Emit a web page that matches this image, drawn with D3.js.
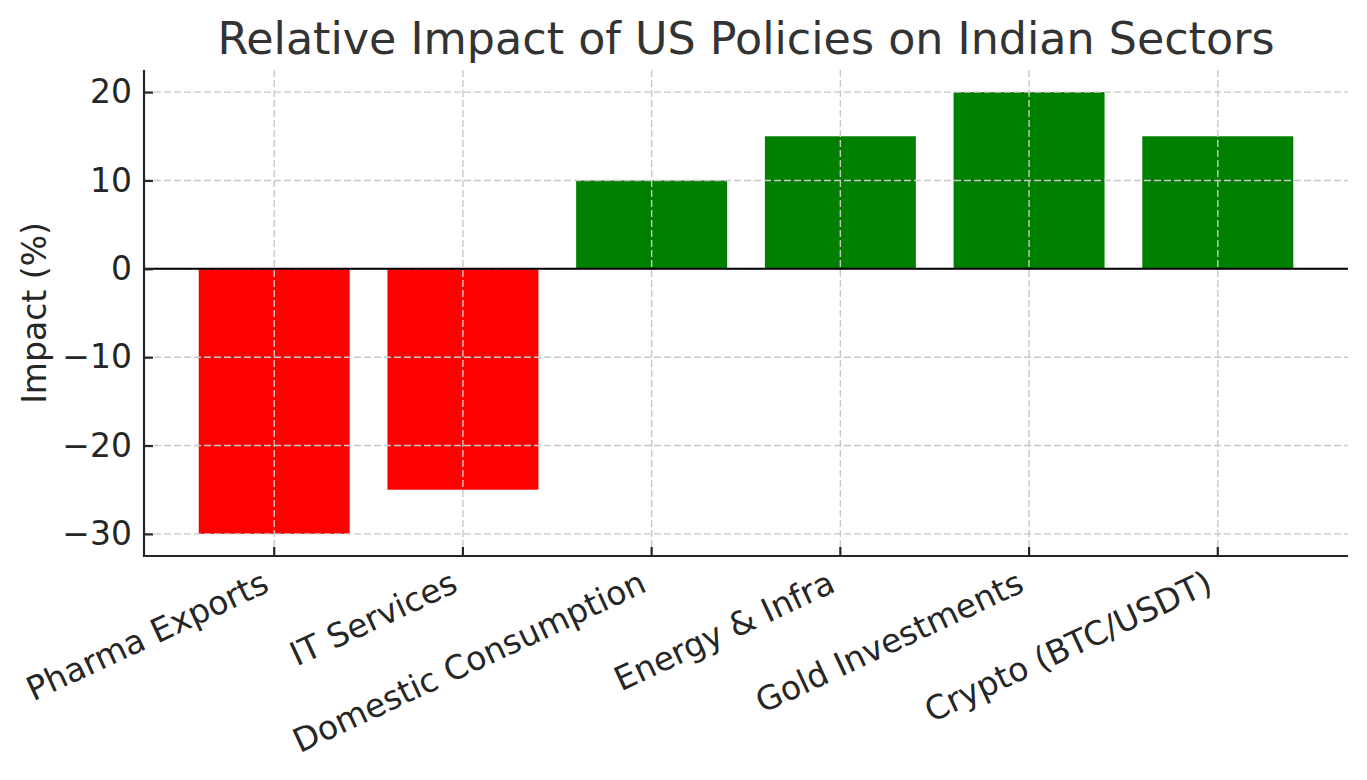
<!DOCTYPE html>
<html>
<head>
<meta charset="utf-8">
<script src="https://cdn.jsdelivr.net/npm/d3@7"></script>
<style>
  html, body { margin: 0; padding: 0; background: #fff; }
  svg text { font-family: "DejaVu Sans", sans-serif; }
</style>
</head>
<body>
<svg id="chart" width="1367" height="780"></svg>
<script>
const categories = ["Pharma Exports", "IT Services", "Domestic Consumption", "Energy & Infra", "Gold Investments", "Crypto (BTC/USDT)"];
const impactValues = [-30, -25, 10, 15, 20, 15];
const yTickValues = [-30, -20, -10, 0, 10, 20];
const titleText = "Relative Impact of US Policies on Indian Sectors";
const yLabelText = "Impact (%)";

const W = 1367, H = 780;
const margin = { left: 144, right: 1348, top: 70, bottom: 556 };
const svg = d3.select("#chart");

const x = d3.scaleBand()
  .domain(categories)
  .range([margin.left, margin.right])
  .paddingInner(0.2)
  .paddingOuter(0.29);

const y = d3.scaleLinear()
  .domain([-32.5, 22.5])
  .range([margin.bottom, margin.top]);

const textColor = "#262626";
const gridColor = "#c8c8c8";

// Bars
svg.append("g").selectAll("rect")
  .data(categories.map((c, i) => ({ c, v: impactValues[i] })))
  .join("rect")
  .attr("x", d => x(d.c))
  .attr("width", x.bandwidth())
  .attr("y", d => y(Math.max(0, d.v)))
  .attr("height", d => Math.abs(y(d.v) - y(0)))
  .attr("fill", d => d.v < 0 ? "#ff0000" : "#008000");

// Grid (on top of bars)
const grid = svg.append("g");
grid.selectAll("line.gy")
  .data(yTickValues)
  .join("line")
  .attr("x1", margin.left).attr("x2", margin.right)
  .attr("y1", d => y(d)).attr("y2", d => y(d))
  .attr("stroke", gridColor).attr("stroke-width", 1.4)
  .attr("stroke-dasharray", "7,3");
grid.selectAll("line.gx")
  .data(categories)
  .join("line")
  .attr("x1", d => x(d) + x.bandwidth() / 2).attr("x2", d => x(d) + x.bandwidth() / 2)
  .attr("y1", margin.top).attr("y2", margin.bottom)
  .attr("stroke", gridColor).attr("stroke-width", 1.4)
  .attr("stroke-dasharray", "7,3");

// Zero line
svg.append("line")
  .attr("x1", margin.left).attr("x2", margin.right)
  .attr("y1", y(0)).attr("y2", y(0))
  .attr("stroke", "#000").attr("stroke-width", 2);

// Y axis
const yAxis = d3.axisLeft(y)
  .tickValues(yTickValues)
  .tickSizeInner(-9)
  .tickSizeOuter(0)
  .tickPadding(12)
  .tickFormat(d => d < 0 ? "\u2212" + Math.abs(d) : String(d));
const gy = svg.append("g").attr("transform", `translate(${margin.left},0)`).call(yAxis);
gy.select(".domain").attr("stroke", textColor).attr("stroke-width", 2.2)
  .attr("d", `M0,${margin.top}V${margin.bottom}`);
gy.selectAll(".tick line").attr("stroke", textColor).attr("stroke-width", 2.2);
gy.selectAll(".tick text").attr("fill", textColor).attr("font-size", 33)
  .attr("font-family", "DejaVu Sans").attr("x", -12);

// X axis
const xAxis = d3.axisBottom(x)
  .tickSizeInner(-9)
  .tickSizeOuter(0)
  .tickFormat("");
const gx = svg.append("g").attr("transform", `translate(0,${margin.bottom})`).call(xAxis);
gx.select(".domain").attr("stroke", textColor).attr("stroke-width", 2.2)
  .attr("d", `M${margin.left - 1.1},0H${margin.right}`);
gx.selectAll(".tick line").attr("stroke", textColor).attr("stroke-width", 2.2);

// Rotated x labels (rotation 25deg, right aligned)
const fs = 33, theta = 25 * Math.PI / 180;
const ascent = fs * 0.76, descent = fs * 0.24;
const pad = 12;
svg.append("g").selectAll("text")
  .data(categories)
  .join("text")
  .attr("text-anchor", "end")
  .attr("font-size", fs)
  .attr("fill", textColor)
  .attr("transform", d => {
    const tx = x(d) + x.bandwidth() / 2 - descent * Math.sin(theta);
    const ty = margin.bottom + pad + ascent * Math.cos(theta);
    return `translate(${tx},${ty}) rotate(-25)`;
  })
  .text(d => d);

// Y label
svg.append("text")
  .attr("transform", `translate(46,${(margin.top + margin.bottom) / 2}) rotate(-90)`)
  .attr("text-anchor", "middle")
  .attr("font-size", 33)
  .attr("fill", textColor)
  .text(yLabelText);

// Title
svg.append("text")
  .attr("x", (margin.left + margin.right) / 2)
  .attr("y", 54)
  .attr("text-anchor", "middle")
  .attr("font-size", 44.4)
  .attr("fill", "#333333")
  .text(titleText);
</script>
</body>
</html>
